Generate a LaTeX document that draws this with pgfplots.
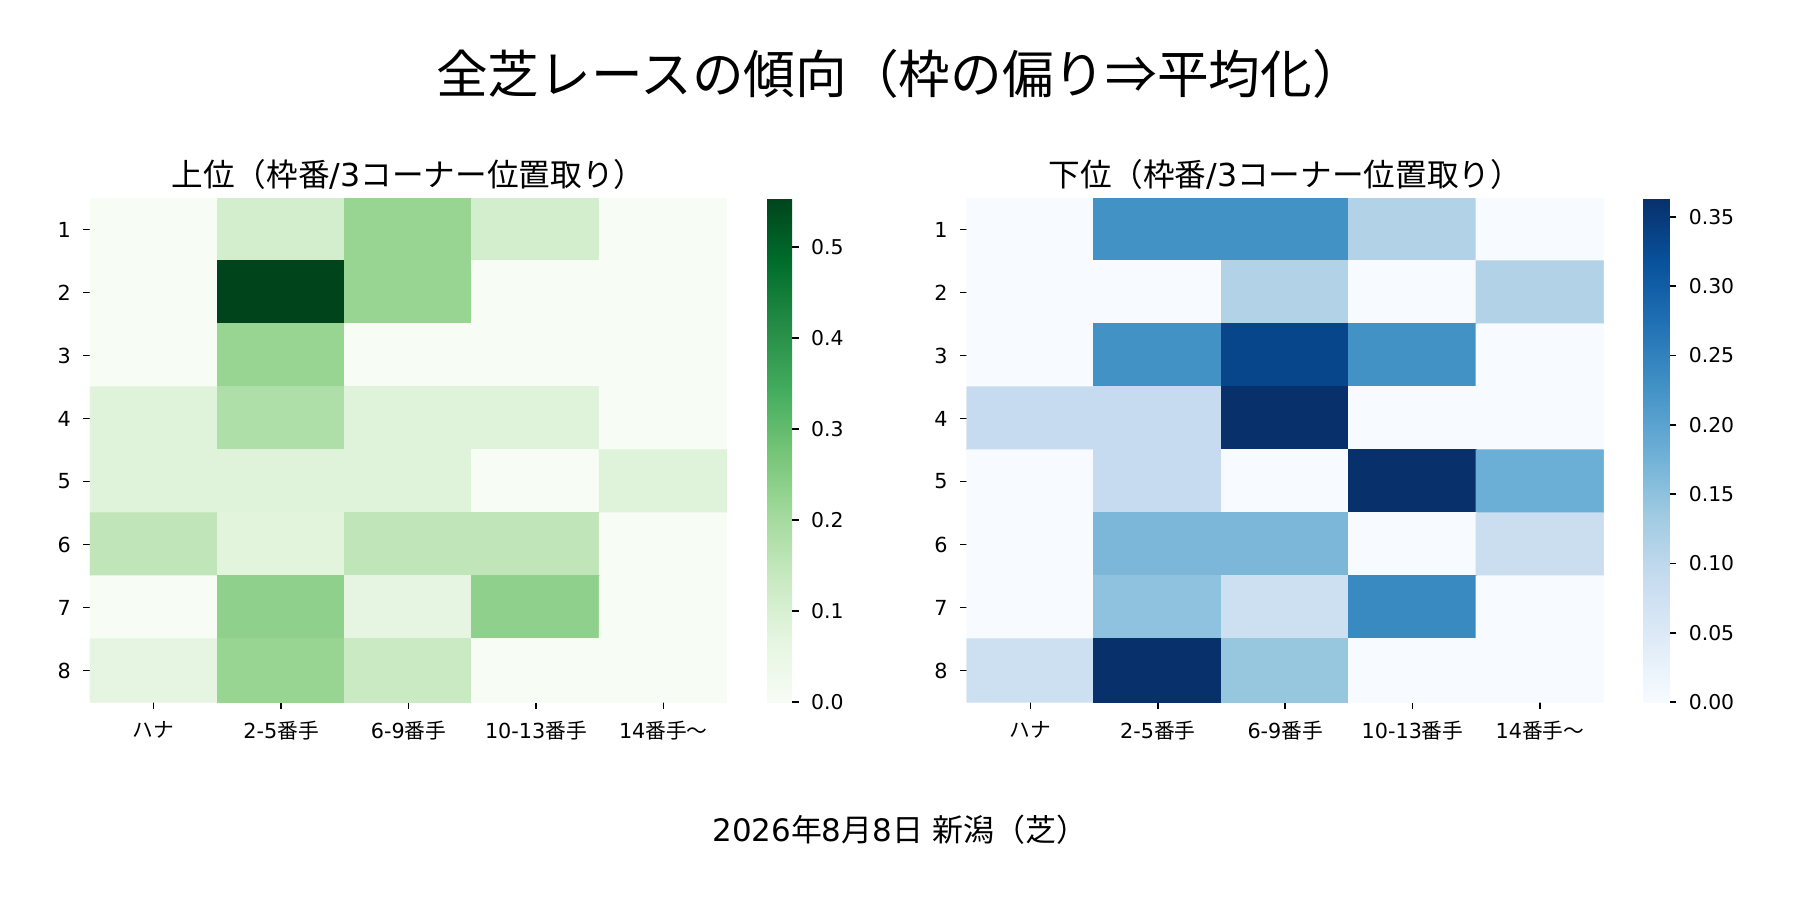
\documentclass[border=0pt]{standalone}
\usepackage{fontspec}
\setmainfont{DejaVu Sans}
\newfontfamily\cjk{Noto Sans CJK JP}
\usepackage{pgfplots}
\usepackage{pgfplotstable}
\pgfplotsset{compat=1.18}
\pgfplotsset{
  colormap={mplgreens}{rgb255=(247,252,245) rgb255=(229,245,224) rgb255=(199,233,192) rgb255=(161,217,155) rgb255=(116,196,118) rgb255=(65,171,93) rgb255=(35,139,69) rgb255=(0,109,44) rgb255=(0,68,27)},
  colormap={mplblues}{rgb255=(247,251,255) rgb255=(222,235,247) rgb255=(198,219,239) rgb255=(158,202,225) rgb255=(107,174,214) rgb255=(66,146,198) rgb255=(33,113,181) rgb255=(8,81,156) rgb255=(8,48,107)},
}
\pgfplotstableread{
x y c
0 0 0
1 0 0.111
2 0 0.222
3 0 0.111
4 0 0
0 1 0
1 1 0.554
2 1 0.222
3 1 0
4 1 0
0 2 0
1 2 0.222
2 2 0
3 2 0
4 2 0
0 3 0.083
1 3 0.182
2 3 0.083
3 3 0.083
4 3 0
0 4 0.083
1 4 0.083
2 4 0.083
3 4 0
4 4 0.083
0 5 0.154
1 5 0.077
2 5 0.154
3 5 0.154
4 5 0
0 6 0
1 6 0.235
2 6 0.067
3 6 0.235
4 6 0
0 7 0.067
1 7 0.222
2 7 0.133
3 7 0
4 7 0
}\uppertable
\pgfplotstableread{
x y c
0 0 0
1 0 0.227
2 0 0.227
3 0 0.114
4 0 0
0 1 0
1 1 0
2 1 0.114
3 1 0
4 1 0.114
0 2 0
1 2 0.227
2 2 0.333
3 2 0.227
4 2 0
0 3 0.091
1 3 0.091
2 3 0.3636
3 3 0
4 3 0
0 4 0
1 4 0.091
2 4 0
3 4 0.3636
4 4 0.182
0 5 0
1 5 0.167
2 5 0.167
3 5 0
4 5 0.083
0 6 0
1 6 0.15
2 6 0.077
3 6 0.238
4 6 0
0 7 0.077
1 7 0.3636
2 7 0.143
3 7 0
4 7 0
}\lowertable
\pgfplotsset{
  hm/.style={
    scale only axis,
    width=6.37cm, height=5.04cm,
    anchor=south west,
    xmin=-0.5, xmax=4.5, ymin=-0.5, ymax=7.5,
    y dir=reverse,
    enlargelimits=false,
    axis line style={draw=none},
    tick align=outside,
    major tick length=0.067cm,
    tick style={black, line width=0.45pt},
    xtick pos=left, ytick pos=left,
    xtick={0,1,2,3,4},
    xticklabels={{\cjk ハナ},2-5{\cjk 番手},6-9{\cjk 番手},10-13{\cjk 番手},14{\cjk 番手〜}},
    ytick={0,1,2,3,4,5,6,7},
    yticklabels={1,2,3,4,5,6,7,8},
    ticklabel style={font=\fontsize{5.9}{7}\selectfont},
    title style={at={(0.5,1)}, anchor=base, yshift=-6pt, yshift=0.12cm, font=\fontsize{9}{11}\selectfont},
    colorbar,
    point meta min=0,
  },
  cb/.style={
    at={(parent axis.north east)}, anchor=north west, xshift=0.10cm,
    scale only axis, width=0.25cm, height=5.04cm,
    axis line style={draw=none},
    tick align=outside,
    major tick length=0.067cm,
    tick style={black, line width=0.45pt},
    ytick pos=right, yticklabel pos=right,
    scaled y ticks=false,
    yticklabel style={font=\fontsize{5.8}{7}\selectfont, /pgf/number format/.cd, fixed, fixed zerofill, assume math mode=true},
  },
}
\begin{document}
\begin{tikzpicture}
\path[use as bounding box] (0,0) rectangle (18,9);
\node[anchor=base] at (9.0,8.064) {\fontsize{14.7}{17}\selectfont\cjk 全芝レースの傾向（枠の偏り⇒平均化）};
\begin{axis}[hm, at={(0.90cm,1.98cm)},
  title={{\cjk 上位（枠番}/3{\cjk コーナー位置取り）}},
  colormap name=mplgreens,
  point meta max=0.554,
  colorbar style={cb, ytick={0,0.1,0.2,0.3,0.4,0.5}, yticklabel style={/pgf/number format/precision=1}},
]
\addplot[matrix plot*, mesh/cols=5, point meta=explicit] table[x=x, y=y, meta=c] {\uppertable};
\end{axis}
\begin{axis}[hm, at={(9.667cm,1.98cm)},
  title={{\cjk 下位（枠番}/3{\cjk コーナー位置取り）}},
  colormap name=mplblues,
  point meta max=0.3636,
  colorbar style={cb, width=0.26cm, ytick={0,0.05,0.1,0.15,0.2,0.25,0.3,0.35}, yticklabel style={/pgf/number format/precision=2}},
]
\addplot[matrix plot*, mesh/cols=5, point meta=explicit] table[x=x, y=y, meta=c] {\lowertable};
\end{axis}
\node[anchor=base] at (9.0,0.59) {\fontsize{8.8}{10}\selectfont 2026{\cjk 年}8{\cjk 月}8{\cjk 日} {\cjk 新潟（芝）}};
\end{tikzpicture}
\end{document}
